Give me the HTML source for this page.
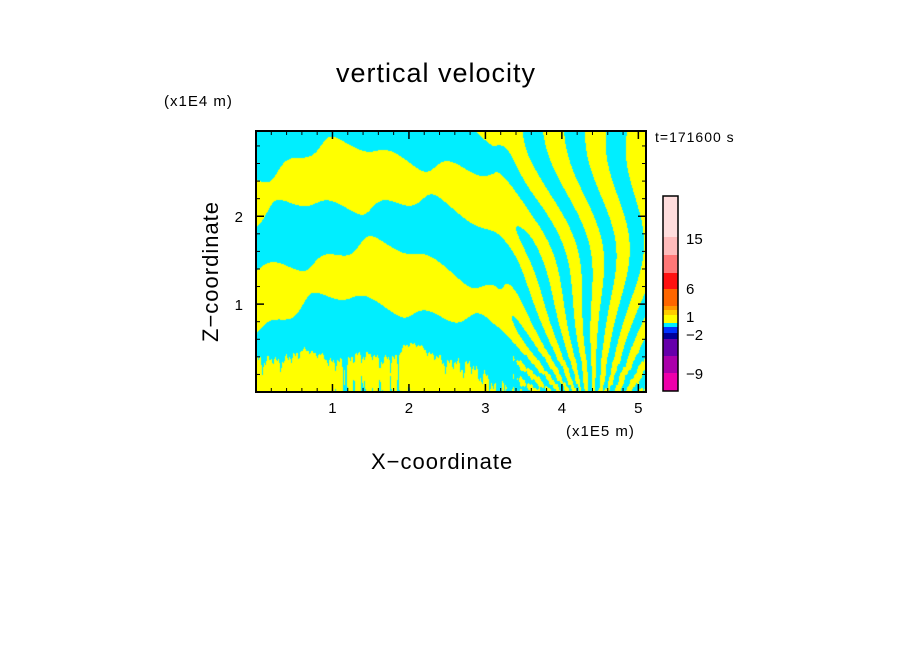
<!DOCTYPE html>
<html><head><meta charset="utf-8"><style>
body{margin:0;background:#fff;width:904px;height:654px;overflow:hidden;position:relative;font-family:"Liberation Sans",sans-serif}
.t{position:absolute;color:#000;white-space:nowrap}
</style></head><body>
<div class="t" style="left:336px;top:58px;font-size:27px;letter-spacing:1px">vertical velocity</div>
<div class="t" style="left:164px;top:93px;font-size:15px;letter-spacing:1px">(x1E4 m)</div>
<div class="t" style="left:655px;top:129px;font-size:14px;letter-spacing:1px">t=171600 s</div>
<div class="t" style="left:566px;top:423px;font-size:15px;letter-spacing:1px">(x1E5 m)</div>
<div class="t" style="left:371px;top:449px;font-size:22px;letter-spacing:1px">X−coordinate</div>
<div class="t" style="left:198px;top:342px;font-size:22px;letter-spacing:1px;transform:rotate(-90deg);transform-origin:0 0">Z−coordinate</div>
<canvas id="field" width="390" height="261" style="position:absolute;left:256px;top:131px"></canvas>
<svg id="ax" width="904" height="654" style="position:absolute;left:0;top:0"></svg>
<script>
const xTicks=[1,2,3,4,5];
const zTicks=[1,2];
const cbColors=["#ffdddd","#ffbbbb","#ff7777","#ff1111","#ff6600","#ff9900","#ffcc00","#ffff00","#ffff00","#00eeff","#0033ff","#000099","#6600aa","#aa00aa","#ee00aa"];
const cbEdges=[196,237,255,273,289,306,310,315,318,323,327,333,339,356,373,391];
const cbLabels=["15","6","1","−2","−9"];
const cbLabelY=[238,288,316,334,373];
const X0=256,X1=646,Y0=131,Y1=392,xmax=5.1,zmax=2.97;
const sx=v=>X0+v/xmax*(X1-X0), sz=v=>Y1-v/zmax*(Y1-Y0);
const NS="http://www.w3.org/2000/svg",ax=document.getElementById('ax');
function mk(t,a){const e=document.createElementNS(NS,t);for(const k in a)e.setAttribute(k,a[k]);ax.appendChild(e);return e;}
const cv=document.getElementById('field'),ctx=cv.getContext('2d'),img=ctx.createImageData(390,261);
for(let j=0;j<261;j++)for(let i=0;i<390;i++){
 const x=i/390*xmax,z=(261-j)/261*zmax;
 let f1=Math.sin(2*Math.PI*(z+0.13*(x-1.4)*(x-1.4))/1.15+0.6)+0.5*Math.sin(x*3.1+z*1.7)+0.3*Math.sin(x*9+z*4);
 const th=Math.atan2(x-4.3,z+0.5);
 let f2=Math.sin(th*40+z*4+Math.sin(z*3)*1.5);
 const w=Math.min(1,Math.max(0,(x-3.1)/0.5));
 let f=f1*(1-w)+f2*w;
 if(z<0.6){const s=Math.sin(x*53)+Math.sin(x*131+1)*0.8+Math.sin(x*29+2)*0.6;f+=s*(0.6-z)*0.9;}
 const c=f>0?[255,255,0]:[0,238,255];
 const p=(j*390+i)*4;img.data[p]=c[0];img.data[p+1]=c[1];img.data[p+2]=c[2];img.data[p+3]=255;}
ctx.putImageData(img,0,0);
let r=mk('rect',{x:X0,y:Y0,width:X1-X0,height:Y1-Y0,fill:'none',stroke:'#000','stroke-width':2});

xTicks.forEach(v=>{const x=sx(v);
 mk('line',{x1:x,x2:x,y1:Y1,y2:Y1-8,stroke:'#000','stroke-width':1.5});mk('line',{x1:x,x2:x,y1:Y0,y2:Y0+8,stroke:'#000','stroke-width':1.5});
 for(let k=1;k<5;k++){const xm=sx(v-1+k*0.2);mk('line',{x1:xm,x2:xm,y1:Y1,y2:Y1-4,stroke:'#000'});mk('line',{x1:xm,x2:xm,y1:Y0,y2:Y0+4,stroke:'#000'});}
 const t=mk('text',{x:x,y:Y1+21,'font-size':15,'text-anchor':'middle'});t.textContent=v;
 });
zTicks.forEach(v=>{const y=sz(v);
 mk('line',{x1:X0,x2:X0+8,y1:y,y2:y,stroke:'#000','stroke-width':1.5});mk('line',{x1:X1,x2:X1-8,y1:y,y2:y,stroke:'#000','stroke-width':1.5});
 const t=mk('text',{x:X0-13,y:y+6,'font-size':15,'text-anchor':'end'});t.textContent=v;
 });
for(let v=0.2;v<zmax;v+=0.2){if(Math.abs(v-Math.round(v))<0.01)continue;const y=sz(v);mk('line',{x1:X0,x2:X0+4,y1:y,y2:y,stroke:'#000'});mk('line',{x1:X1,x2:X1-4,y1:y,y2:y,stroke:'#000'});}
cbColors.forEach((c,i)=>{const s=mk('rect',{x:663,y:cbEdges[i],width:15,height:cbEdges[i+1]-cbEdges[i],fill:c});
 });
mk('rect',{x:663,y:196,width:15,height:195,fill:'none',stroke:'#000','stroke-width':1.5});
cbLabels.forEach((l,i)=>{const t=mk('text',{x:686,y:cbLabelY[i]+6,'font-size':15});t.textContent=l;
 });
</script></body></html>
